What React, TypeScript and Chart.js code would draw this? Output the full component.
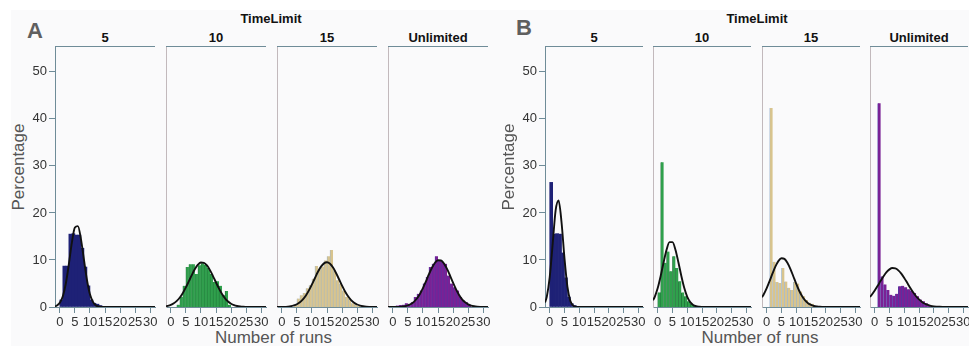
import React, { useEffect, useRef } from 'react';
import { Chart, registerables } from 'chart.js';
Chart.register(...registerables);

const FONT = "'Liberation Sans', Arial, Helvetica, sans-serif";

// ---------- data ----------
const timeLimits = ['5', '10', '15', 'Unlimited'];
const bins = [0, 1, 2, 3, 4, 5, 6, 7, 8, 9, 10, 11, 12, 13, 14, 15, 16, 17, 18, 19, 20, 21, 22, 23, 24, 25, 26, 27, 28, 29, 30];
const curveX = [-1.6, -1, 0, 1, 2, 3, 4, 5, 6, 7, 8, 9, 10, 11, 12, 13, 14, 15, 16, 17, 18, 19, 20, 21, 22, 23, 24, 25, 26, 27, 28, 29, 30, 31, 31.6];
const xTicks = [0, 5, 10, 15, 20, 25, 30];
const yTicks = [0, 10, 20, 30, 40, 50];

// Panel A histograms (percentage per bin)
const histA5 = [1.5, 8.7, 8.7, 15.5, 15.6, 15.3, 15.3, 12.5, 8.5, 4.5, 1.5, 0.8, 0.6, 0.3, null, null, null, null, null, null, null, null, null, null, null, null, null, null, null, null, null];
const histA10 = [null, null, 0.5, 2.1, 4.5, 8.5, 9.1, 9.1, 7.0, 8.9, 9.3, 9.0, 8.3, 7.0, 5.3, 5.5, 4.5, 2.5, 3.4, 0.5, null, null, null, null, null, null, null, null, null, null, null];
const histA15 = [null, null, null, null, 0.4, 1.8, 2.5, 3.0, 4.0, 4.6, 6.0, 8.7, 8.0, 8.6, 9.9, 10.8, 12.1, 7.8, 5.7, 5.0, 3.5, 2.2, 1.8, 0.8, 0.6, 0.2, null, null, null, null, null];
const histAU = [null, 0.3, 0.4, 0.5, 0.8, 0.7, 1.0, 2.1, 2.8, 3.5, 5.0, 6.4, 8.5, 9.2, 10.8, 9.9, 9.6, 9.2, 6.7, 5.0, 4.2, 3.5, 2.1, 1.4, 1.0, 0.5, null, null, null, null, null];
// Panel B histograms
const histB5 = [26.5, 15.5, 15.6, 15.5, 11.5, 6.2, 2.1, 0.7, 0.3, null, null, null, null, null, null, null, null, null, null, null, null, null, null, null, null, null, null, null, null, null, null];
const histB10 = [3.1, 30.8, 9.4, 11.8, 7.6, 10.8, 8.3, 5.5, 3.1, 2.3, 1.2, 0.7, 0.3, null, null, null, null, null, null, null, null, null, null, null, null, null, null, null, null, null, null];
const histB15 = [null, 42.3, 9.6, 5.3, 5.1, 8.3, 5.4, 4.1, 3.6, 5.3, 5.0, 3.3, 2.3, 1.5, 0.9, 0.7, null, null, null, null, null, null, null, null, null, null, null, null, null, null, null];
const histBU = [null, 43.3, 6.5, 4.8, 3.6, 2.6, 2.4, 2.8, 4.4, 4.5, 4.2, 3.8, 3.5, 3.0, 2.3, 1.6, 1.2, 0.8, 0.4, null, null, null, null, null, null, null, null, null, null, null, null];

// Fitted curves read at curveX
const curveA5 = [0.1, 0.3, 0.9, 2.3, 5.0, 9.1, 13.7, 16.9, 17.2, 14.5, 10.1, 5.8, 2.7, 1.1, 0.3, 0.1, 0, 0, 0, 0, 0, 0, 0, 0, 0, 0, 0, 0, 0, 0, 0, 0, 0, 0, 0];
const curveA10 = [0.16, 0.24, 0.44, 0.78, 1.29, 2.01, 2.98, 4.16, 5.49, 6.84, 8.07, 8.99, 9.46, 9.40, 8.83, 7.84, 6.58, 5.21, 3.91, 2.76, 1.85, 1.17, 0.70, 0.39, 0.21, 0.11, 0.05, 0.02, 0, 0, 0, 0, 0, 0, 0];
const curveA15 = [0, 0, 0.01, 0.02, 0.08, 0.17, 0.33, 0.59, 1.01, 1.62, 2.46, 3.54, 4.81, 6.17, 7.49, 8.58, 9.28, 9.50, 9.18, 8.38, 7.24, 5.90, 4.55, 3.31, 2.28, 1.48, 0.91, 0.53, 0.29, 0.15, 0.07, 0.03, 0.01, 0, 0];
const curveAU = [0, 0, 0, 0.01, 0.01, 0.08, 0.17, 0.34, 0.63, 1.10, 1.81, 2.78, 4.02, 5.46, 6.97, 8.35, 9.41, 9.95, 9.89, 9.23, 8.10, 6.67, 5.16, 3.75, 2.56, 1.64, 0.99, 0.56, 0.30, 0.15, 0.07, 0.03, 0.01, 0, 0];
const curveB5 = [0.97, 2.16, 6.34, 13.43, 20.54, 22.65, 18.02, 10.35, 4.28, 1.28, 0.28, 0.04, 0, 0, 0, 0, 0, 0, 0, 0, 0, 0, 0, 0, 0, 0, 0, 0, 0, 0, 0, 0, 0, 0, 0];
const curveB10 = [1.42, 2.17, 4.02, 6.59, 9.53, 12.19, 13.8, 13.8, 12.19, 9.53, 6.59, 4.02, 2.17, 1.04, 0.44, 0.16, 0.05, 0.01, 0, 0, 0, 0, 0, 0, 0, 0, 0, 0, 0, 0, 0, 0, 0, 0, 0];
const curveB15 = [2.07, 2.71, 4.01, 5.56, 7.19, 8.69, 9.82, 10.37, 10.23, 9.43, 8.13, 6.54, 4.92, 3.46, 2.27, 1.39, 0.80, 0.43, 0.21, 0.10, 0.04, 0.02, 0.01, 0, 0, 0, 0, 0, 0, 0, 0, 0, 0, 0, 0];
const curveBU = [2.14, 2.61, 3.51, 4.51, 5.56, 6.55, 7.40, 8.00, 8.28, 8.21, 7.79, 7.09, 6.17, 5.14, 4.10, 3.13, 2.29, 1.61, 1.08, 0.69, 0.43, 0.25, 0.14, 0.08, 0.04, 0.02, 0.01, 0, 0, 0, 0, 0, 0, 0, 0];

const histsA = [histA5, histA10, histA15, histAU];
const histsB = [histB5, histB10, histB15, histBU];
const curvesA = [curveA5, curveA10, curveA15, curveAU];
const curvesB = [curveB5, curveB10, curveB15, curveBU];

// ---------- styles / layout ----------
const FILLS = ['#1e2176', '#2fa04c', '#d8c48e', '#7a2195'];
const STRIPES = ['#2a2f8a', '#1b6a34', '#98b3cf', '#4a3aa6'];
const STRIPE_W = [0, 0.7, 0.7, 0.7];
const AXIS = '#6f8c98';
const PALE = '#c2b9bc';
const PLOT_TOP = 46;
const PLOT_H = 261;
const PAD_TOP = 12;
const PAD_R = 12;
const X_H = 30;
const A_LEFTS = [55, 166, 277, 388];
const B_LEFTS = [545, 653, 762, 870];
const A_W = 100;
const B_W = 98;

const topLine = {
  id: 'topLine',
  afterDraw(chart: any) {
    const { ctx, chartArea } = chart;
    ctx.save();
    ctx.strokeStyle = AXIS;
    ctx.lineWidth = 1;
    ctx.beginPath();
    ctx.moveTo(chartArea.left, Math.round(chartArea.top) + 0.5);
    ctx.lineTo(chartArea.right, Math.round(chartArea.top) + 0.5);
    ctx.stroke();
    ctx.restore();
  },
};

function Facet({ plotLeft, plotW, showY, hist, curve, idx }: any) {
  const ref = useRef<HTMLCanvasElement>(null);
  const yw = showY ? 45 : 8;
  const cw = yw + plotW + PAD_R;
  const ch = PAD_TOP + PLOT_H + X_H;
  useEffect(() => {
    const chart = new Chart(ref.current as HTMLCanvasElement, {
      type: 'line',
      data: {
        datasets: [
          {
            type: 'line',
            data: curveX.map((x, i) => ({ x, y: curve[i] })),
            borderColor: '#111',
            borderWidth: 1.9,
            pointRadius: 0,
            cubicInterpolationMode: 'monotone',
            fill: false,
            order: 1,
          } as any,
          {
            type: 'bar',
            data: bins
              .map((b, i) => ({ x: b + 0.5, y: hist[i] }))
              .filter((d) => d.y !== null),
            backgroundColor: FILLS[idx],
            borderColor: STRIPES[idx],
            borderWidth: { left: STRIPE_W[idx], right: 0, top: 0, bottom: 0 },
            barPercentage: 1,
            categoryPercentage: 1,
            order: 2,
          } as any,
        ],
      },
      options: {
        animation: false,
        responsive: false,
        devicePixelRatio: 1,
        layout: { padding: { left: 0, top: PAD_TOP, right: PAD_R, bottom: 0 } },
        plugins: { legend: { display: false }, tooltip: { enabled: false } },
        scales: {
          x: {
            type: 'linear',
            min: -1.6,
            max: 31.6,
            offset: false,
            afterBuildTicks: (s: any) => {
              s.ticks = xTicks.map((v) => ({ value: v }));
            },
            ticks: {
              autoSkip: false,
              maxRotation: 0,
              minRotation: 0,
              includeBounds: false,
              padding: 2,
              color: '#333',
              font: { family: FONT, size: 13 },
            },
            grid: { drawOnChartArea: false, drawTicks: true, tickLength: 6, color: AXIS, offset: false },
            border: { display: true, color: AXIS, width: 1 },
            afterFit: (s: any) => {
              s.height = X_H;
            },
          },
          y: {
            type: 'linear',
            min: 0,
            max: 55.5,
            afterBuildTicks: (s: any) => {
              s.ticks = yTicks.map((v) => ({ value: v }));
            },
            ticks: {
              display: showY,
              includeBounds: false,
              padding: 2,
              color: '#333',
              font: { family: FONT, size: 13 },
            },
            grid: { display: showY, drawOnChartArea: false, drawTicks: true, tickLength: 6, color: AXIS },
            border: { display: true, color: showY ? AXIS : PALE, width: 1 },
            afterFit: (s: any) => {
              s.width = yw;
            },
          },
        },
      } as any,
      plugins: [topLine],
    });
    return () => chart.destroy();
  }, []);
  return (
    <canvas
      ref={ref}
      width={cw}
      height={ch}
      style={{ position: 'absolute', left: plotLeft - yw, top: PLOT_TOP - PAD_TOP, width: cw, height: ch }}
    />
  );
}

function Txt({ x, y, text, size, bold, color, rotate }: any) {
  return (
    <div
      style={{
        position: 'absolute',
        left: x,
        top: y,
        transform: `translate(-50%, -50%)${rotate ? ' rotate(-90deg)' : ''}`,
        fontFamily: FONT,
        fontSize: size,
        fontWeight: bold ? 700 : 400,
        color,
        lineHeight: `${size}px`,
        whiteSpace: 'nowrap',
      }}
    >
      {text}
    </div>
  );
}

function Panel({ letter, lefts, plotW, hists, curves, letterPos, titleX, yTitleX, xTitleX }: any) {
  return (
    <>
      <Txt x={letterPos[0]} y={letterPos[1]} text={letter} size={22} bold color="#5f5f5f" />
      <Txt x={titleX} y={17.5} text="TimeLimit" size={13} bold color="#111" />
      {timeLimits.map((t, i) => (
        <Txt key={'l' + i} x={lefts[i] + plotW / 2} y={36.5} text={t} size={13} bold color="#111" />
      ))}
      <Txt x={yTitleX} y={167} text="Percentage" size={17} color="#555" rotate />
      <Txt x={xTitleX} y={337.4} text="Number of runs" size={17} color="#555" />
      {timeLimits.map((t, i) => (
        <Facet key={'f' + i} plotLeft={lefts[i]} plotW={plotW} showY={i === 0} hist={hists[i]} curve={curves[i]} idx={i} />
      ))}
    </>
  );
}

export default function App() {
  return (
    <div
      style={{
        position: 'fixed',
        left: 0,
        top: 0,
        width: 969,
        height: 346,
        overflow: 'hidden',
        background: '#ffffff',
      }}
    >
      <div style={{ position: 'absolute', left: 11, top: 10, right: 0, bottom: 0, background: '#fafafb' }} />
      <Panel
        letter="A"
        lefts={A_LEFTS}
        plotW={A_W}
        hists={histsA}
        curves={curvesA}
        letterPos={[35, 31]}
        titleX={271}
        yTitleX={18.3}
        xTitleX={273.5}
      />
      <Panel
        letter="B"
        lefts={B_LEFTS}
        plotW={B_W}
        hists={histsB}
        curves={curvesB}
        letterPos={[524, 28]}
        titleX={757}
        yTitleX={508.3}
        xTitleX={760}
      />
    </div>
  );
}
